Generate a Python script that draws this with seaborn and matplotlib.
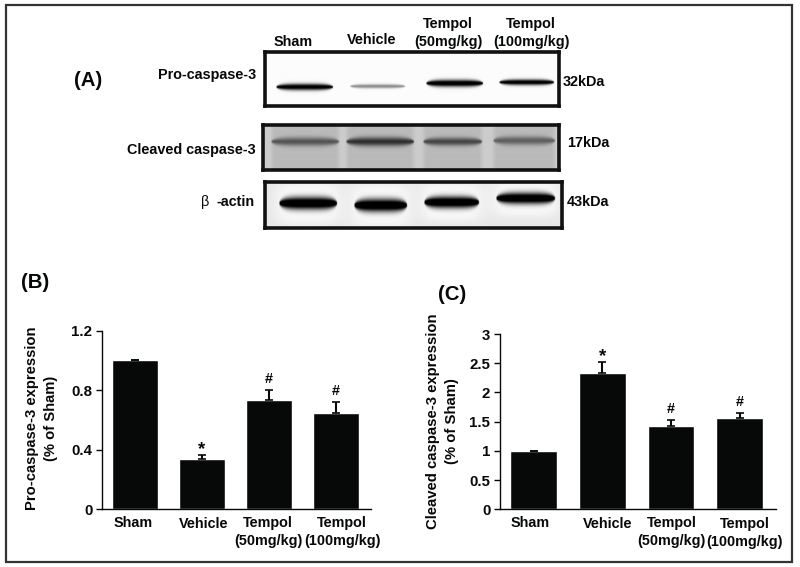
import numpy as np
import pandas as pd
import seaborn as sns
import matplotlib
matplotlib.use("Agg")
import matplotlib.pyplot as plt
from matplotlib.patches import Rectangle
from matplotlib.transforms import ScaledTranslation

sns.set_theme(style="ticks")
plt.rcParams["font.family"] = ["Liberation Sans", "DejaVu Sans"]
plt.rcParams["font.weight"] = "bold"

W, H = 800, 567
fontsize = 10.4
ink = "#070909"

groups = ["Sham", "Vehicle", "Tempol\n(50mg/kg)", "Tempol\n(100mg/kg)"]

pro_vals = [1.0, 0.335, 0.735, 0.65]
pro_tops = [1.0, 0.365, 0.80, 0.718]
pro_marks = ["", "*", "#", "#"]
pro_ticks = [0, 0.4, 0.8, 1.2]
pro_ticklabels = ["0", "0.4", "0.8", "1.2"]

cl_vals = [1.0, 2.33, 1.43, 1.56]
cl_tops = [1.0, 2.52, 1.53, 1.64]
cl_marks = ["", "*", "#", "#"]
cl_ticks = [0, 0.5, 1, 1.5, 2, 2.5, 3]
cl_ticklabels = ["0", "0.5", "1", "1.5", "2", "2.5", "3"]

# blot lanes, in pixels of the picture: left, right, centre y, half height, darkness
pro_bands = [(276, 333, 86.7, 3.2, 1.1), (350, 405, 86, 2.0, 0.45),
             (426, 483, 83, 3.4, 1.15), (499, 554, 82, 2.8, 1.1)]
cl_bands = [(271, 339, 142, 4.2, 0.4), (346, 414, 142, 4.4, 0.55),
            (423, 482, 142, 4.0, 0.46), (493, 555, 141, 4.2, 0.36)]
actin_bands = [(279, 337, 203, 6.2, 1.25), (354, 407, 205, 6.4, 1.25),
               (424, 479, 202, 5.8, 1.25), (496, 555, 198, 5.6, 1.25)]


def fig_ax(fig, left, top, right, bottom):
    return fig.add_axes([left / W, 1 - bottom / H, (right - left) / W, (bottom - top) / H])


def put(fig, x, y, s, ha="center", size=fontsize, **kw):
    fig.text(x / W, 1 - y / H, s, ha=ha, va="center", fontsize=size, color=ink, **kw)


def draw_blot(fig, box, bands, base, lane=0.0, glow=0.0):
    left, top, right, bottom = box
    ax = fig_ax(fig, left, top, right, bottom)
    xs = np.arange(left, right, 0.5)
    ys = np.arange(top, bottom, 0.5)
    xx, yy = np.meshgrid(xs, ys)
    img = np.full(xx.shape, base)
    for x0, x1, yc, hh, dark in bands:
        xm = (x0 + x1) / 2
        hw = (x1 - x0) / 2
        # lens shaped band, thinner towards the lane ends
        u = np.clip(np.abs(xx - xm) / hw, 0, 1)
        local = hh * np.sqrt(np.clip(1 - u ** 4, 0.02, 1))
        core = np.exp(-(((yy - yc) / local) ** 2)) * (u < 1)
        if lane:
            col = np.clip((xx - x0 + 2) / 5, 0, 1) * np.clip((x1 + 2 - xx) / 5, 0, 1)
            img = img - lane * col
        if glow:
            g = np.exp(-(((xx - xm) / (hw * 1.15)) ** 4) - ((yy - yc) / (hh * 3.4)) ** 4)
            img = img + glow * g
        img = img - dark * core
    img = np.clip(img, 0, 1)
    ax.imshow(img, cmap="gray", vmin=0, vmax=1, aspect="auto",
              extent=(left, right, bottom, top), interpolation="bilinear")
    ax.set_xticks([])
    ax.set_yticks([])
    for s in ax.spines.values():
        s.set_linewidth(2.6)
        s.set_color("#111111")


def draw_bars(fig, box, xlim, ylim, vals, tops, marks, ticks, ticklabels, offsets):
    ax = fig_ax(fig, *box)
    df = pd.DataFrame({"group": groups, "value": vals})
    sns.barplot(data=df, x="group", y="value", color=ink, saturation=1, width=0.68,
                errorbar=None, ax=ax)
    x = np.arange(len(vals))
    v = np.array(vals)
    t = np.array(tops)
    ax.errorbar(x, v, yerr=[np.zeros(len(v)), t - v], fmt="none", ecolor=ink,
                elinewidth=1.5, capsize=3, capthick=1.2)
    for i, m in enumerate(marks):
        if m:
            ax.annotate(m, (x[i], t[i]), xytext=(0, 8 if m == "#" else 4),
                        textcoords="offset points", ha="center", va="center",
                        fontsize=fontsize + (0 if m == "#" else 3), color=ink)
    ax.set_xlim(*xlim)
    ax.set_ylim(*ylim)
    ax.set_yticks(ticks)
    ax.set_yticklabels(ticklabels, fontsize=fontsize + 0.4, color=ink)
    ax.tick_params(axis="y", length=4, width=1, color=ink, pad=3)
    ax.tick_params(axis="x", length=0, pad=4.8, labelsize=fontsize, labelcolor=ink)
    ax.set_xlabel("")
    ax.set_ylabel("")
    ax.patch.set_alpha(0)
    sns.despine(ax=ax)
    for s in ["left", "bottom"]:
        ax.spines[s].set_linewidth(1)
        ax.spines[s].set_color(ink)
    for lab, (dx, dy) in zip(ax.get_xticklabels(), offsets):
        lab.set_linespacing(1.35)
        lab.set_transform(lab.get_transform() + ScaledTranslation(dx / 100, dy / 100, fig.dpi_scale_trans))
    return ax


fig = plt.figure(figsize=(W / 100, H / 100), dpi=100, facecolor="white")
fig.add_artist(Rectangle((6 / W, 1 - 562 / H), 786 / W, 557 / H, transform=fig.transFigure,
                         fill=False, ec="#333333", lw=1.6))

draw_blot(fig, (265, 52, 559, 106), pro_bands, 0.985)
draw_blot(fig, (263, 125, 559, 170), cl_bands, 0.80, lane=0.07)
draw_blot(fig, (265, 182, 562, 228), actin_bands, 0.90, glow=0.09)

put(fig, 88, 80, "(A)", size=14.7)
put(fig, 35, 282, "(B)", size=14.7)
put(fig, 452, 295, "(C)", size=14.7)

put(fig, 293, 42, "Sham")
put(fig, 372, 40, "Vehicle")
put(fig, 448, 33, "Tempol\n(50mg/kg)", linespacing=1.35)
put(fig, 531, 33, "Tempol\n(100mg/kg)", linespacing=1.35)
put(fig, 256, 75, "Pro-caspase-3", ha="right")
put(fig, 256, 150, "Cleaved caspase-3", ha="right")
put(fig, 205, 202, "β", fontweight="normal")
put(fig, 255, 202, "-actin", ha="right")
put(fig, 563, 82, "32kDa", ha="left")
put(fig, 567, 143, "17kDa", ha="left")
put(fig, 567, 202, "43kDa", ha="left")

draw_bars(fig, (102, 330.7, 371, 509.3), (-0.49, 3.52), (0, 1.2),
          pro_vals, pro_tops, pro_marks, pro_ticks, pro_ticklabels,
          [(-2, 0), (2, -1), (-1, 0), (6, 0)])
draw_bars(fig, (500, 334, 775.7, 509.3), (-0.488, 3.525), (0, 3),
          cl_vals, cl_tops, cl_marks, cl_ticks, cl_ticklabels,
          [(-3, 0), (5, -1), (1, 0), (5, -1)])

put(fig, 41.5, 418, "Pro-caspase-3 expression\n(% of Sham)", rotation=90, linespacing=1.5, size=10.6)
put(fig, 442.5, 421, "Cleaved caspase-3 expression\n(% of Sham)", rotation=90, linespacing=1.5, size=10.7)

plt.savefig("out.png", dpi=100)
